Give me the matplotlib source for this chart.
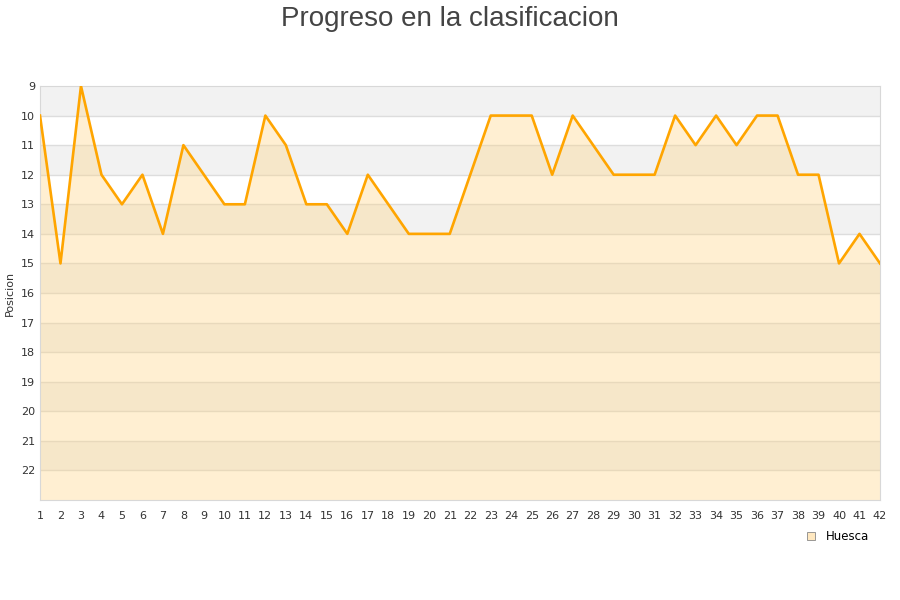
import numpy as np
import matplotlib.pyplot as plt
from matplotlib.lines import Line2D

jornadas = list(range(1, 43))
posicion = [10, 15, 9, 12, 13, 12, 14, 11, 12, 13, 13, 10, 11, 13, 13, 14, 12, 13, 14, 14, 14,
            12, 10, 10, 10, 12, 10, 11, 12, 12, 12, 10, 11, 10, 11, 10, 10, 12, 12, 15, 14, 15]
equipo = "Huesca"

fig = plt.figure(figsize=(9, 6), dpi=100)
ax = fig.add_axes([40/900, 1 - 500/600, 840/900, 414/600])

ymin, ymax = 9, 23
# alternating background bands
for k in range(ymin, ymax):
    if (k - ymin) % 2 == 0:
        ax.axhspan(k, k + 1, color='#f2f2f2', zorder=0, lw=0)
for k in range(ymin + 1, ymax):
    ax.axhline(k, color='#dddddd', lw=1, zorder=1)

ax.fill_between(jornadas, posicion, ymax, color='#ffd37f', alpha=0.35, lw=0, zorder=2)
ax.plot(jornadas, posicion, color='#ffa500', lw=1.9, zorder=3)

ax.set_xlim(1, 42)
ax.set_ylim(ymax, ymin)
ax.set_xticks(jornadas)
ax.set_yticks(range(9, 23))
ax.tick_params(axis='both', length=0, labelsize=8, colors='#333333')
ax.tick_params(axis='x', pad=8)
for s in ax.spines.values():
    s.set_color('#d8d8d8')
ax.set_ylabel('Posicion', fontsize=8, color='#333333', labelpad=4)

fig.text(0.5, 0.99, 'Progreso en la clasificacion', ha='center', va='top',
         fontsize=20, color='#444444', family='Liberation Sans')

handle = Line2D([], [], marker='s', ls='', markersize=6, markerfacecolor='#ffe8c0',
                markeredgecolor='#888888', markeredgewidth=0.6)
fig.legend([handle], [equipo], loc='upper right', bbox_to_anchor=(0.978, 0.134),
           frameon=False, fontsize=8.5, handletextpad=0.3)

fig.savefig('out.png', dpi=100)
